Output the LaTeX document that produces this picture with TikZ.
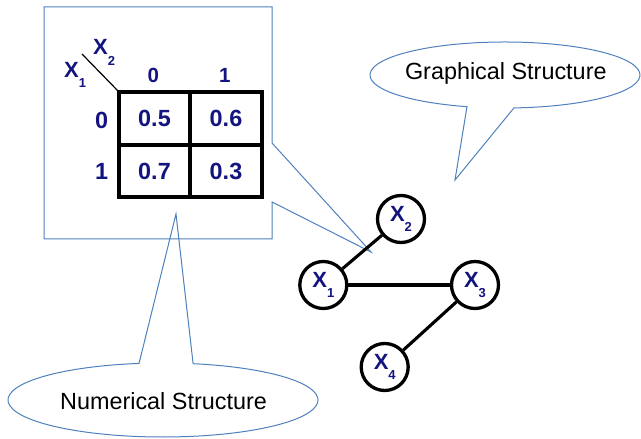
\documentclass[tikz,border=0pt]{standalone}
\usepackage{fontspec}
\setmainfont{Liberation Sans}
\definecolor{labelblue}{RGB}{20,20,128}
\definecolor{calloutblue}{RGB}{79,129,189}
% variable name with a lowered index
\newcommand\xvar[1]{X\raisebox{-10.5pt}{\fontsize{13}{14}\selectfont #1}}

\begin{document}
\begin{tikzpicture}[x=1pt,y=1pt,
  callout/.style={draw=calloutblue, line width=1pt, line join=miter},
  gridline/.style={line width=3.2pt},
  varnode/.style={circle, draw, line width=3.3pt, minimum size=47pt, inner sep=0pt,
    font=\fontsize{22}{25}\selectfont\bfseries, text=labelblue},
  edgeline/.style={line width=3.1pt},
  celltext/.style={font=\fontsize{23.4}{26}\selectfont\bfseries, text=labelblue, inner sep=0pt},
  headtext/.style={font=\fontsize{20.5}{23}\selectfont\bfseries, text=labelblue, inner sep=0pt},
  varlab/.style={font=\fontsize{22}{25}\selectfont\bfseries, text=labelblue, inner sep=0pt, anchor=base west},
  bubbletext/.style={font=\fontsize{23.4}{26}\selectfont, inner sep=0pt, anchor=base},
]
\useasboundingbox (0,0) rectangle (641,439);
\fill[white] (0,0) rectangle (641,439);

% rectangular callout around the table, pointing at the graph
\draw[callout] (44,432) -- (272,432) -- (272,296) -- (371,187) -- (272,237)
  -- (272,200) -- (44,200) -- cycle;

% oval callouts
\draw[callout] (163,39) ++(98.9:155 and 37)
  arc[start angle=98.9, end angle=438.8, x radius=155, y radius=37]
  -- (176,225) -- cycle;
\node[bubbletext] (numlab) at (163.5,29) {Numerical Structure};

\draw[callout] (505,364) ++(273.8:135 and 33)
  arc[start angle=273.8, end angle=613.65, x radius=135, y radius=33]
  -- (455,259) -- cycle;
\node[bubbletext] (graphlab) at (505.8,359.7) {Graphical Structure};

% probability table
\draw[gridline] (119,242) rectangle (262,347);
\draw[gridline] (190,242) -- (190,347);
\draw[gridline] (119,294) -- (262,294);
\coordinate (diagstart) at (82,385);
\coordinate (tabcorner) at (119,347);
\draw[line width=1.2pt] (diagstart) -- (tabcorner);

\node[varlab] (tx2) at (93,384) {\xvar{2}};
\node[varlab] (tx1) at (64,361.5) {\xvar{1}};
\node[headtext] (col0) at (153.3,364) {0};
\node[headtext] (col1) at (224.7,364) {1};
\node[celltext] (row0) at (101.7,319) {0};
\node[celltext] (row1) at (101.7,267.3) {1};
\node[celltext] (c00) at (154.5,320.5) {0.5};
\node[celltext] (c01) at (226,320.5) {0.6};
\node[celltext] (c10) at (154.5,268) {0.7};
\node[celltext] (c11) at (226,268) {0.3};

% graph
\node[varnode] (x1) at (323.3,154) {\xvar{1}};
\node[varnode] (x2) at (401,220) {\xvar{2}};
\node[varnode] (x3) at (475,154) {\xvar{3}};
\node[varnode] (x4) at (384.7,72) {\xvar{4}};
\draw[edgeline] (x1) -- (x2);
\draw[edgeline] (x1) -- (x3);
\draw[edgeline] (x3) -- (x4);
\end{tikzpicture}
\end{document}
